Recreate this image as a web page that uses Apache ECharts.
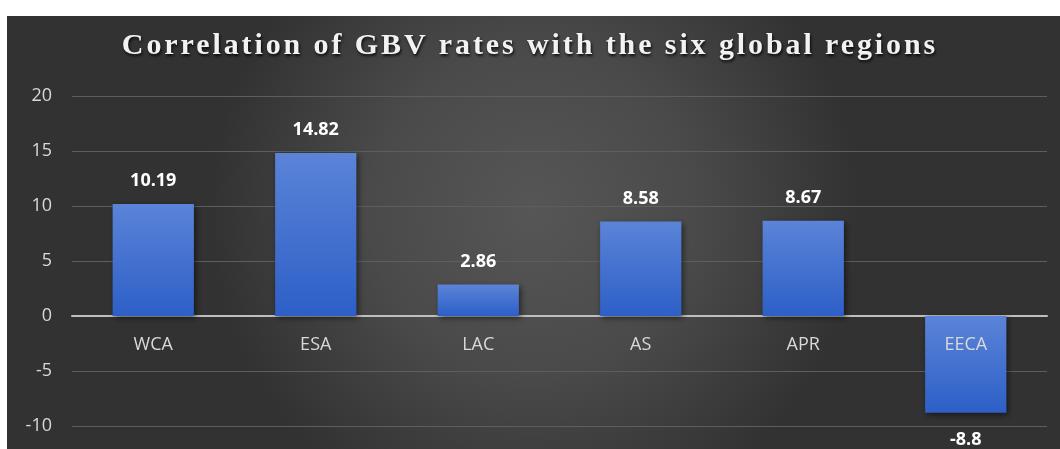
<!DOCTYPE html>
<html><head><meta charset="utf-8">
<script src="https://cdn.jsdelivr.net/npm/echarts@6/dist/echarts.min.js"></script>
<style>html,body{margin:0;padding:0;background:#fff}#c{width:1060px;height:449px}</style>
</head><body><div id="c"></div>
<script>
const categories = ['WCA', 'ESA', 'LAC', 'AS', 'APR', 'EECA'];
const values = [10.19, 14.82, 2.86, 8.58, 8.67, -8.8];
const yTicks = [-10, -5, 0, 5, 10, 15, 20];
const titleText = 'Correlation of GBV rates with the six global regions';

// wider letter spacing for the title text only
(function () {
  const proto = CanvasRenderingContext2D.prototype;
  const orig = proto.fillText;
  proto.fillText = function (text, x, y, maxW) {
    if (text === titleText && 'letterSpacing' in this) {
      const w0 = this.measureText(text).width;
      const prev = this.letterSpacing;
      this.letterSpacing = '2.9px';
      const w1 = this.measureText(text).width;
      const a = this.textAlign;
      let dx = 0;
      if (a === 'left' || a === 'start') dx = -(w1 - w0) / 2;
      else if (a === 'right' || a === 'end') dx = (w1 - w0) / 2;
      const r = maxW === undefined ? orig.call(this, text, x + dx, y) : orig.call(this, text, x + dx, y, maxW);
      this.letterSpacing = prev;
      return r;
    }
    return maxW === undefined ? orig.call(this, text, x, y) : orig.call(this, text, x, y, maxW);
  };
})();

const chart = echarts.init(document.getElementById('c'), null, {renderer: 'canvas'});
chart.setOption({
  backgroundColor: '#ffffff',
  animation: false,
  graphic: [{
    type: 'rect', z: -10, silent: true,
    shape: {x: 7, y: 16, width: 1053, height: 433},
    style: {
      fill: new echarts.graphic.RadialGradient(0.5, 0.45, 0.75, [
        {offset: 0, color: '#565656'},
        {offset: 0.5, color: '#4a4a4a'},
        {offset: 1, color: '#323232'}
      ])
    }
  }],
  title: {
    text: titleText, left: 'center', top: 26,
    textStyle: {
      fontFamily: 'Liberation Serif, serif', fontWeight: 'bold', fontSize: 30,
      color: '#f2f2f2', textShadowColor: 'rgba(0,0,0,0.85)', textShadowBlur: 3,
      textShadowOffsetX: 1, textShadowOffsetY: 2
    }
  },
  grid: {left: 72, right: 13, top: 96, bottom: 23, containLabel: false, outerBoundsMode: 'none'},
  xAxis: {
    type: 'category', data: categories,
    axisLine: {onZero: true, lineStyle: {color: '#bfbfbf', width: 2}},
    axisTick: {show: false},
    axisLabel: {show: false}
  },
  yAxis: {
    type: 'value', min: yTicks[0], max: yTicks[yTicks.length - 1], interval: 5,
    axisLine: {show: false}, axisTick: {show: false},
    splitLine: {lineStyle: {color: '#5e5e5e', width: 1}},
    axisLabel: {color: '#d9d9d9', fontSize: 18, fontFamily: 'Open Sans, sans-serif', margin: 20}
  },
  series: [{
    type: 'bar', barWidth: '50%', z: 3,
    data: values.map(v => v < 0 ? {value: v, label: {position: 'bottom', distance: 18}} : v),
    itemStyle: {
      color: new echarts.graphic.LinearGradient(0, 0, 0, 1, [
        {offset: 0, color: '#5b84d8'},
        {offset: 1, color: '#2d5fc7'}
      ]),
      shadowColor: 'rgba(0,0,0,0.55)', shadowBlur: 6, shadowOffsetX: 2, shadowOffsetY: 2
    },
    label: {
      show: true, position: 'top', distance: 14,
      color: '#ffffff', fontWeight: 'bold', fontSize: 18,
      fontFamily: 'Open Sans, sans-serif',
      formatter: p => String(p.value)
    }
  }, {
    // category names drawn just below the zero line
    type: 'bar', barWidth: '50%', barGap: '-100%', z: 5, silent: true,
    data: categories.map(() => 0),
    itemStyle: {color: 'rgba(0,0,0,0)'},
    label: {
      show: true, position: 'bottom', distance: 20,
      color: '#d9d9d9', fontSize: 18, fontFamily: 'Open Sans, sans-serif',
      formatter: p => p.name
    }
  }]
});
</script></body></html>
